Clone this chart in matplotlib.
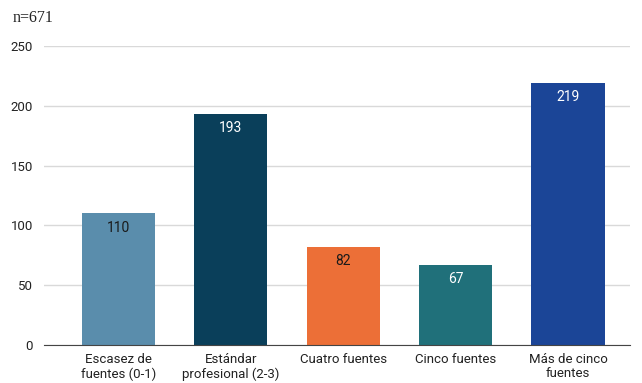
import matplotlib.pyplot as plt
import numpy as np

categories = ["Escasez de\nfuentes (0-1)", "Estándar\nprofesional (2-3)", "Cuatro fuentes",
              "Cinco fuentes", "Más de cinco\nfuentes"]
values = [110, 193, 82, 67, 219]
colors = ["#5a8dac", "#0a3f5a", "#ec6f37", "#20707a", "#1b4597"]
label_colors = ["#1a1a1a", "white", "#1a1a1a", "white", "white"]

plt.rcParams['font.family'] = ['Roboto', 'DejaVu Sans']

fig = plt.figure(figsize=(6.42, 3.83), dpi=100)
ax = fig.add_axes([0.0685, 0.099, 0.9125, 0.781])

x = np.arange(len(values))
bars = ax.bar(x, values, width=0.65, color=colors, zorder=3)

for b, v, c in zip(bars, values, label_colors):
    ax.text(b.get_x() + b.get_width() / 2, v - 6, str(v), ha='center', va='top',
            fontsize=10, color=c, zorder=4)

ax.set_ylim(0, 250)
ax.set_xlim(-0.66, 4.55)
ax.set_yticks([0, 50, 100, 150, 200, 250])
ax.yaxis.grid(True, color='#d9d9d9', linewidth=1, zorder=0)
ax.set_xticks(x)
ax.set_xticklabels(categories, fontsize=9.5, color='#222222', linespacing=1.1)
ax.tick_params(axis='y', length=0, labelsize=9.5, labelcolor='#222222', pad=8)
ax.tick_params(axis='x', length=0, pad=6)
for s in ['top', 'right', 'left']:
    ax.spines[s].set_visible(False)
ax.spines['bottom'].set_color('#444444')
ax.spines['bottom'].set_zorder(5)

fig.text(0.02, 0.952, "n=671", fontsize=11.5, family='Liberation Serif', color='#222222', va='center')

fig.savefig("out.png", dpi=100)
